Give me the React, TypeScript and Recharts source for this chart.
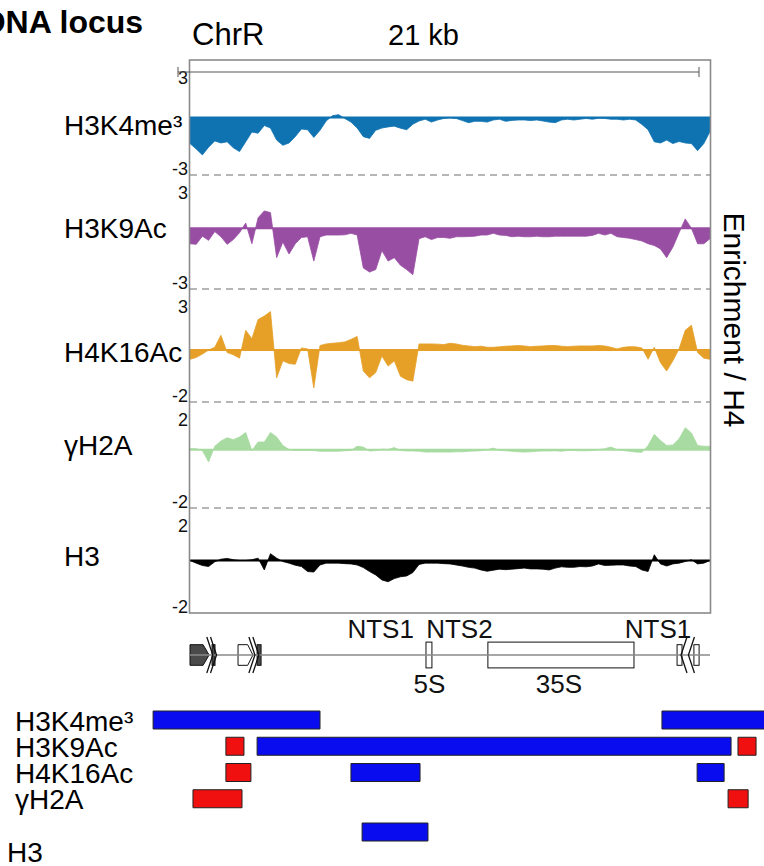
import React from "react";
import {
  AreaChart,
  Area,
  BarChart,
  Bar,
  Cell,
  ComposedChart,
  XAxis,
  YAxis,
  ReferenceLine,
  ReferenceArea,
  ReferenceDot,
} from "recharts";

const FONT = "'Liberation Sans', Arial, Helvetica, sans-serif";

// locus is 21 kb wide, drawn across 520 px (x 190..710)
const LOCUS_KB = 21;
const KB_PER_PX = LOCUS_KB / 520;

const trackNames = ["H3K4me³", "H3K9Ac", "H4K16Ac", "γH2A", "H3"];
const trackTickLabels = [
  ["3", "-3"],
  ["3", "-3"],
  ["3", "-2"],
  ["2", "-2"],
  ["2", "-2"],
];

// sampling grid along the locus (kb), every 0.25 kb
const positionsKb = Array.from({ length: 85 }, (_, i) => i * 0.25);

const h3k4me3 = [
  -1.36, -1.64, -1.95, -1.55, -1.22, -1.33, -1.27, -1.58, -1.78, -1.27,
  -0.76, -0.82, -0.42, -0.55, -1.18, -1.45, -1.33, -1.0, -0.6, -0.64,
  -1.04, -0.67, -0.18, 0.09, 0.15, -0.05, -0.24, -0.55, -1.0, -1.09,
  -0.67, -0.55, -0.49, -0.45, -0.56, -0.64, -0.35, -0.18, -0.09, -0.24,
  -0.13, -0.05, -0.02, -0.05, -0.16, -0.27, -0.2, -0.2, -0.24, -0.13,
  -0.09, -0.2, -0.15, -0.13, -0.13, -0.16, -0.13, -0.18, -0.24, -0.27,
  -0.13, -0.09, -0.13, -0.09, -0.05, -0.09, -0.04, -0.05, -0.09, -0.09,
  -0.13, -0.09, -0.13, -0.36, -0.64, -1.27, -1.33, -1.18, -1.36, -1.25,
  -1.33, -1.36, -1.73, -1.36, -0.73,
];

const h3k9ac = [
  -0.82, -0.85, -0.42, -0.64, -0.18, -0.45, -0.85, -0.6, -0.24, 0.27,
  -0.82, 0.55, 0.91, 0.82, -1.55, -0.73, -1.36, -0.82, -0.49, -0.45,
  -1.73, -0.45, -0.36, -0.36, -0.36, -0.35, -0.27, -0.36, -2.09, -2.31,
  -2.18, -1.18, -1.73, -1.55, -1.95, -2.18, -2.45, -0.55, -0.45, -0.6,
  -0.49, -0.49, -0.53, -0.45, -0.45, -0.44, -0.42, -0.36, -0.36, -0.27,
  -0.36, -0.38, -0.45, -0.42, -0.45, -0.45, -0.42, -0.45, -0.45, -0.42,
  -0.42, -0.42, -0.42, -0.42, -0.42, -0.38, -0.27, -0.36, -0.27, -0.45,
  -0.49, -0.53, -0.6, -0.67, -0.82, -0.91, -1.09, -1.55, -1.0, -0.24,
  0.49, 0, -0.82, -0.82, -0.55,
];

const h4k16ac = [
  -0.41, -0.33, -0.18, 0, 0.12, 0.65, -0.11, -0.21, -0.36, 0.87,
  0.5, 1.35, 1.5, 1.7, -1.23, -0.48, -0.6, -0.63, 0.09, 0.05,
  -1.68, 0.2, 0.27, 0.3, 0.32, 0.36, 0.47, 0.6, -0.93, -1.23,
  -1.0, -0.26, -0.71, -0.48, -1.16, -1.31, -1.38, 0.27, 0.27, 0.27,
  0.26, 0.24, 0.3, 0.27, 0.21, 0.18, 0.15, 0.17, 0.12, 0.12,
  0.14, 0.17, 0.18, 0.2, 0.18, 0.15, 0.17, 0.18, 0.2, 0.2,
  0.17, 0.15, 0.17, 0.18, 0.18, 0.18, 0.2, 0.18, 0.12, 0.05,
  0.12, 0.15, 0.14, 0.09, -0.41, 0.12, -0.56, -0.93, -0.48, 0.05,
  0.87, 1.1, -0.11, -0.36, -0.41,
];

const gammaH2A = [
  0.04, 0.04, -0.03, -0.46, 0.13, 0.33, 0.45, 0.38, 0.48, 0.65,
  -0.03, 0.29, 0.29, 0.65, 0.48, 0.16, 0.01, -0.03, -0.03, -0.03,
  -0.03, -0.06, -0.06, -0.06, -0.06, -0.04, -0.03, 0.13, 0.1, -0.05,
  -0.03, 0.02, 0.01, 0.08, -0.03, -0.05, -0.05, -0.06, -0.09, -0.09,
  -0.09, -0.09, -0.09, -0.08, -0.08, -0.06, -0.05, -0.04, 0, 0.06,
  -0.03, -0.04, -0.06, -0.08, -0.09, -0.08, -0.06, -0.05, -0.05, -0.04,
  -0.06, -0.03, -0.03, -0.04, -0.04, -0.03, 0, 0.04, 0.1, 0,
  -0.03, -0.06, -0.09, -0.1, 0.16, 0.58, 0.35, 0.16, 0.18, 0.41,
  0.83, 0.63, 0.16, 0.13, 0.13,
];

const h3 = [
  0, -0.1, -0.19, -0.23, -0.05, 0.05, 0.08, 0.03, 0, 0,
  0.03, 0.09, -0.36, 0.26, 0.09, -0.04, -0.1, -0.18, -0.23, -0.42,
  -0.44, -0.17, -0.1, -0.1, -0.1, -0.12, -0.13, -0.17, -0.27, -0.42,
  -0.55, -0.74, -0.81, -0.69, -0.62, -0.59, -0.46, -0.15, -0.1, -0.1,
  -0.1, -0.12, -0.13, -0.17, -0.21, -0.26, -0.29, -0.36, -0.41, -0.37,
  -0.33, -0.35, -0.33, -0.31, -0.29, -0.32, -0.32, -0.33, -0.36, -0.29,
  -0.24, -0.26, -0.26, -0.23, -0.24, -0.21, -0.13, -0.19, -0.18, -0.17,
  -0.17, -0.21, -0.23, -0.36, -0.42, 0.22, -0.13, -0.21, -0.13, -0.1,
  -0.04, 0.03, -0.13, -0.1, 0,
];

// annotation of the repeat (kb)
const geneFeatures = [
  { start: 0, end: 0.77, kind: "orf", pointed: true },
  { start: 0.89, end: 1.01, kind: "orf", pointed: false },
  { start: 1.94, end: 2.54, kind: "ars", pointed: true },
  { start: 2.71, end: 2.87, kind: "orf", pointed: false },
  { start: 9.53, end: 9.77, kind: "rrna", pointed: false },
  { start: 12.03, end: 17.93, kind: "rrna", pointed: false },
  { start: 19.67, end: 19.87, kind: "ars", pointed: false },
  { start: 20.35, end: 20.56, kind: "ars", pointed: false },
];
const repeatBreaks = [
  { kb: 0.8, dir: 1 },
  { kb: 0.95, dir: 1 },
  { kb: 2.5, dir: 1 },
  { kb: 2.66, dir: 1 },
  { kb: 19.95, dir: -1 },
  { kb: 20.25, dir: -1 },
];
const geneLabels = [
  { name: "NTS1", kb: 7.7, side: "top" },
  { name: "NTS2", kb: 10.88, side: "top" },
  { name: "NTS1", kb: 18.9, side: "top" },
  { name: "5S", kb: 9.67, side: "bottom" },
  { name: "35S", kb: 14.9, side: "bottom" },
];

// called enrichment (up) / depletion (down) intervals, kb
const h3k4me3Calls = [
  { start: -1.49, end: 5.25, call: "down" },
  { start: 19.06, end: 23.4, call: "down" },
];
const h3k9acCalls = [
  { start: 1.45, end: 2.18, call: "up" },
  { start: 2.71, end: 21.85, call: "down" },
  { start: 22.13, end: 22.86, call: "up" },
];
const h4k16acCalls = [
  { start: 1.45, end: 2.46, call: "up" },
  { start: 6.5, end: 9.29, call: "down" },
  { start: 20.48, end: 21.57, call: "down" },
];
const gammaH2ACalls = [
  { start: 0.12, end: 2.1, call: "up" },
  { start: 21.73, end: 22.54, call: "up" },
];
const h3Calls = [{ start: 6.95, end: 9.61, call: "down" }];

const rows = positionsKb.map((kb, i) => ({
  kb,
  h3k4me3: h3k4me3[i],
  h3k9ac: h3k9ac[i],
  h4k16ac: h4k16ac[i],
  gammaH2A: gammaH2A[i],
  h3: h3[i],
}));

const tracks = [
  { key: "h3k4me3", color: "#0f72b1", domain: [-3, 3], top: 60, bottom: 175, nameDy: 8 },
  { key: "h3k9ac", color: "#984ea3", domain: [-3.2, 2.8], top: 175, bottom: 289, nameDy: 0 },
  { key: "h4k16ac", color: "#e6a027", domain: [-2.3, 2.7], top: 289, bottom: 402, nameDy: 2 },
  { key: "gammaH2A", color: "#a8dba1", domain: [-2.2, 1.8], top: 402, bottom: 508, nameDy: -4 },
  { key: "h3", color: "#000000", domain: [-2, 2], top: 508, bottom: 613, nameDy: -4 },
];

const callColor = (c: string) => (c === "up" ? "#f01010" : "#0a0cf0");

function buildCallRows(names: string[], calls: any[][]) {
  return names.map((name, i) => {
    const r: any = { name };
    calls[i].forEach((c, j) => {
      r["c" + j] = [c.start, c.end];
      r["k" + j] = c.call;
    });
    return r;
  });
}

const callRows = buildCallRows(trackNames.slice(0, 4), [
  h3k4me3Calls,
  h3k9acCalls,
  h4k16acCalls,
  gammaH2ACalls,
]);
const h3CallRows = buildCallRows(trackNames.slice(4), [h3Calls]);

const EdgeTick = (props: any) => {
  const { x, y, payload, domain, labels } = props;
  const isTop = payload.value === domain[1];
  return (
    <text
      x={x}
      y={y}
      dy={isTop ? 18 : -6}
      textAnchor="end"
      dominantBaseline="central"
      fontSize={18}
      fontFamily={FONT}
      fill="#111"
    >
      {isTop ? labels[0] : labels[1]}
    </text>
  );
};

const PAD = 14;

function Track({ t, i }: { t: any; i: number }) {
  const height = t.bottom - t.top + PAD * 2;
  return (
    <div style={{ position: "absolute", left: 0, top: t.top - PAD }}>
      <AreaChart
        width={764}
        height={height}
        data={rows}
        margin={{ top: PAD, right: 54, bottom: PAD, left: 150 }}
      >
        <XAxis type="number" dataKey="kb" domain={[0, LOCUS_KB]} hide />
        <YAxis
          type="number"
          domain={t.domain}
          ticks={t.domain}
          interval={0}
          allowDataOverflow
          width={40}
          axisLine={false}
          tickLine={false}
          tickSize={0}
          tickMargin={2}
          tick={<EdgeTick domain={t.domain} labels={trackTickLabels[i]} />}
        />
        {i < 4 && (
          <ReferenceLine
            y={t.domain[0]}
            stroke="#6e6e6e"
            strokeWidth={1.2}
            strokeDasharray="7 5"
          />
        )}
        <Area
          type="linear"
          dataKey={t.key}
          baseValue={0}
          stroke={t.color}
          strokeWidth={0.8}
          fill={t.color}
          fillOpacity={1}
          dot={false}
          activeDot={false}
          isAnimationActive={false}
        />
        <ReferenceLine
          y={0}
          stroke={t.color}
          strokeWidth={2}
          label={(p: any) => (
            <text
              x={64}
              y={p.viewBox.y + t.nameDy}
              dominantBaseline="central"
              fontSize={28}
              fontFamily={FONT}
              fill="#000"
            >
              {trackNames[i]}
            </text>
          )}
        />
      </AreaChart>
    </div>
  );
}

const featureFill = (kind: string) => (kind === "orf" ? "#4a4a4a" : "#ffffff");
const featureHalf = (kind: string) => (kind === "rrna" ? 0.3 : 0.24);

function GeneTrack() {
  return (
    <div style={{ position: "absolute", left: 0, top: 612 }}>
      <ComposedChart
        width={764}
        height={86}
        data={rows}
        margin={{ top: 0, right: 54, bottom: 0, left: 190 }}
      >
        <XAxis type="number" dataKey="kb" domain={[0, LOCUS_KB]} allowDataOverflow hide />
        <YAxis type="number" domain={[-1, 1]} allowDataOverflow hide />
        <ReferenceLine y={0} stroke="#8a8a8a" strokeWidth={1.5} />
        {geneFeatures.map((f, j) => (
          <ReferenceArea
            key={"f" + j}
            x1={f.start}
            x2={f.end}
            y1={-featureHalf(f.kind)}
            y2={featureHalf(f.kind)}
            ifOverflow="visible"
            shape={(p: any) => {
              const { x, y, width, height } = p;
              if (f.pointed) {
                const tip = Math.min(6, width * 0.35);
                const pts = [
                  [x, y],
                  [x + width - tip, y],
                  [x + width, y + height / 2],
                  [x + width - tip, y + height],
                  [x, y + height],
                ]
                  .map((q) => q.join(","))
                  .join(" ");
                return (
                  <polygon points={pts} fill={featureFill(f.kind)} stroke="#111" strokeWidth={1} />
                );
              }
              return (
                <rect
                  x={x}
                  y={y}
                  width={width}
                  height={height}
                  fill={featureFill(f.kind)}
                  stroke="#111"
                  strokeWidth={1}
                />
              );
            }}
          />
        ))}
        {repeatBreaks.map((b, j) => (
          <ReferenceDot
            key={"b" + j}
            x={b.kb}
            y={0}
            r={0}
            ifOverflow="visible"
            shape={(p: any) => {
              const { cx, cy } = p;
              const d = 3 * b.dir;
              return (
                <polyline
                  points={`${cx - d},${cy - 18} ${cx + d},${cy} ${cx - d},${cy + 18}`}
                  fill="none"
                  stroke="#111"
                  strokeWidth={1.3}
                />
              );
            }}
          />
        ))}
        {geneLabels.map((l, j) => (
          <ReferenceDot
            key={"l" + j}
            x={l.kb}
            y={l.side === "top" ? 0.6 : -0.68}
            r={0}
            ifOverflow="visible"
            label={{
              value: l.name,
              position: "center",
              fontSize: 26,
              fontFamily: FONT,
              fill: "#111",
            }}
          />
        ))}
      </ComposedChart>
    </div>
  );
}

const CallTick = (props: any) => {
  const { y, payload, shift, left } = props;
  return (
    <text
      x={left}
      y={y}
      dy={shift}
      dominantBaseline="central"
      fontSize={28}
      fontFamily={FONT}
      fill="#000"
    >
      {payload.value}
    </text>
  );
};

const CALL_AXIS_W = 1;

function CallChart({ data, top, height, labelShift, labelX, padTop, padBottom }: any) {
  const barKeys = ["c0", "c1", "c2"];
  return (
    <div style={{ position: "absolute", left: 0, top: top - padTop }}>
      <BarChart
        layout="vertical"
        width={764}
        height={height + padTop + padBottom}
        data={data}
        barGap={-18}
        margin={{ top: padTop, right: 0, bottom: padBottom, left: 0 }}
      >
        <XAxis
          type="number"
          domain={[(CALL_AXIS_W - 190) * KB_PER_PX, (764 - 190) * KB_PER_PX]}
          allowDataOverflow
          hide
        />
        <YAxis
          type="category"
          dataKey="name"
          width={CALL_AXIS_W}
          axisLine={false}
          tickLine={false}
          interval={0}
          tick={<CallTick shift={labelShift} left={labelX} />}
        />
        {barKeys.map((k, j) => (
          <Bar
            key={k}
            dataKey={k}
            barSize={18}
            stroke="#222"
            strokeWidth={1}
            isAnimationActive={false}
          >
            {data.map((r: any, n: number) => (
              <Cell key={n} fill={callColor(r["k" + j])} />
            ))}
          </Bar>
        ))}
      </BarChart>
    </div>
  );
}

export default function App() {
  return (
    <div
      style={{
        position: "absolute",
        left: 0,
        top: 0,
        width: 764,
        height: 866,
        background: "#fff",
        overflow: "hidden",
        fontFamily: FONT,
      }}
    >
      {tracks.map((t, i) => (
        <Track key={t.key} t={t} i={i} />
      ))}
      <GeneTrack />
      <CallChart
        data={callRows}
        top={707}
        height={105}
        labelShift={1}
        labelX={15}
        padTop={12}
        padBottom={12}
      />
      <CallChart
        data={h3CallRows}
        top={819}
        height={26}
        labelShift={20}
        labelX={7}
        padTop={4}
        padBottom={21}
      />
      <svg
        width={764}
        height={866}
        style={{ position: "absolute", left: 0, top: 0, pointerEvents: "none" }}
      >
        <rect x={189.5} y={60} width={521} height={553} fill="none" stroke="#8a8a8a" strokeWidth={1.6} />
        <line x1={178} y1={72} x2={699} y2={72} stroke="#555" strokeWidth={1} />
        <line x1={178} y1={67} x2={178} y2={77} stroke="#555" strokeWidth={1} />
        <line x1={699} y1={67} x2={699} y2={77} stroke="#555" strokeWidth={1} />
        <text x={-30} y={33} fontSize={32} fontWeight="bold" fontFamily={FONT} fill="#000">
          rDNA locus
        </text>
        <text x={192} y={45} fontSize={31} fontFamily={FONT} fill="#000">
          ChrR
        </text>
        <text x={388} y={45} fontSize={29} fontFamily={FONT} fill="#000">
          21 kb
        </text>
        <text
          x={734}
          y={320}
          fontSize={30}
          fontFamily={FONT}
          fill="#000"
          textAnchor="middle"
          dominantBaseline="central"
          transform="rotate(90 734 320)"
        >
          Enrichment /  H4
        </text>
      </svg>
    </div>
  );
}
